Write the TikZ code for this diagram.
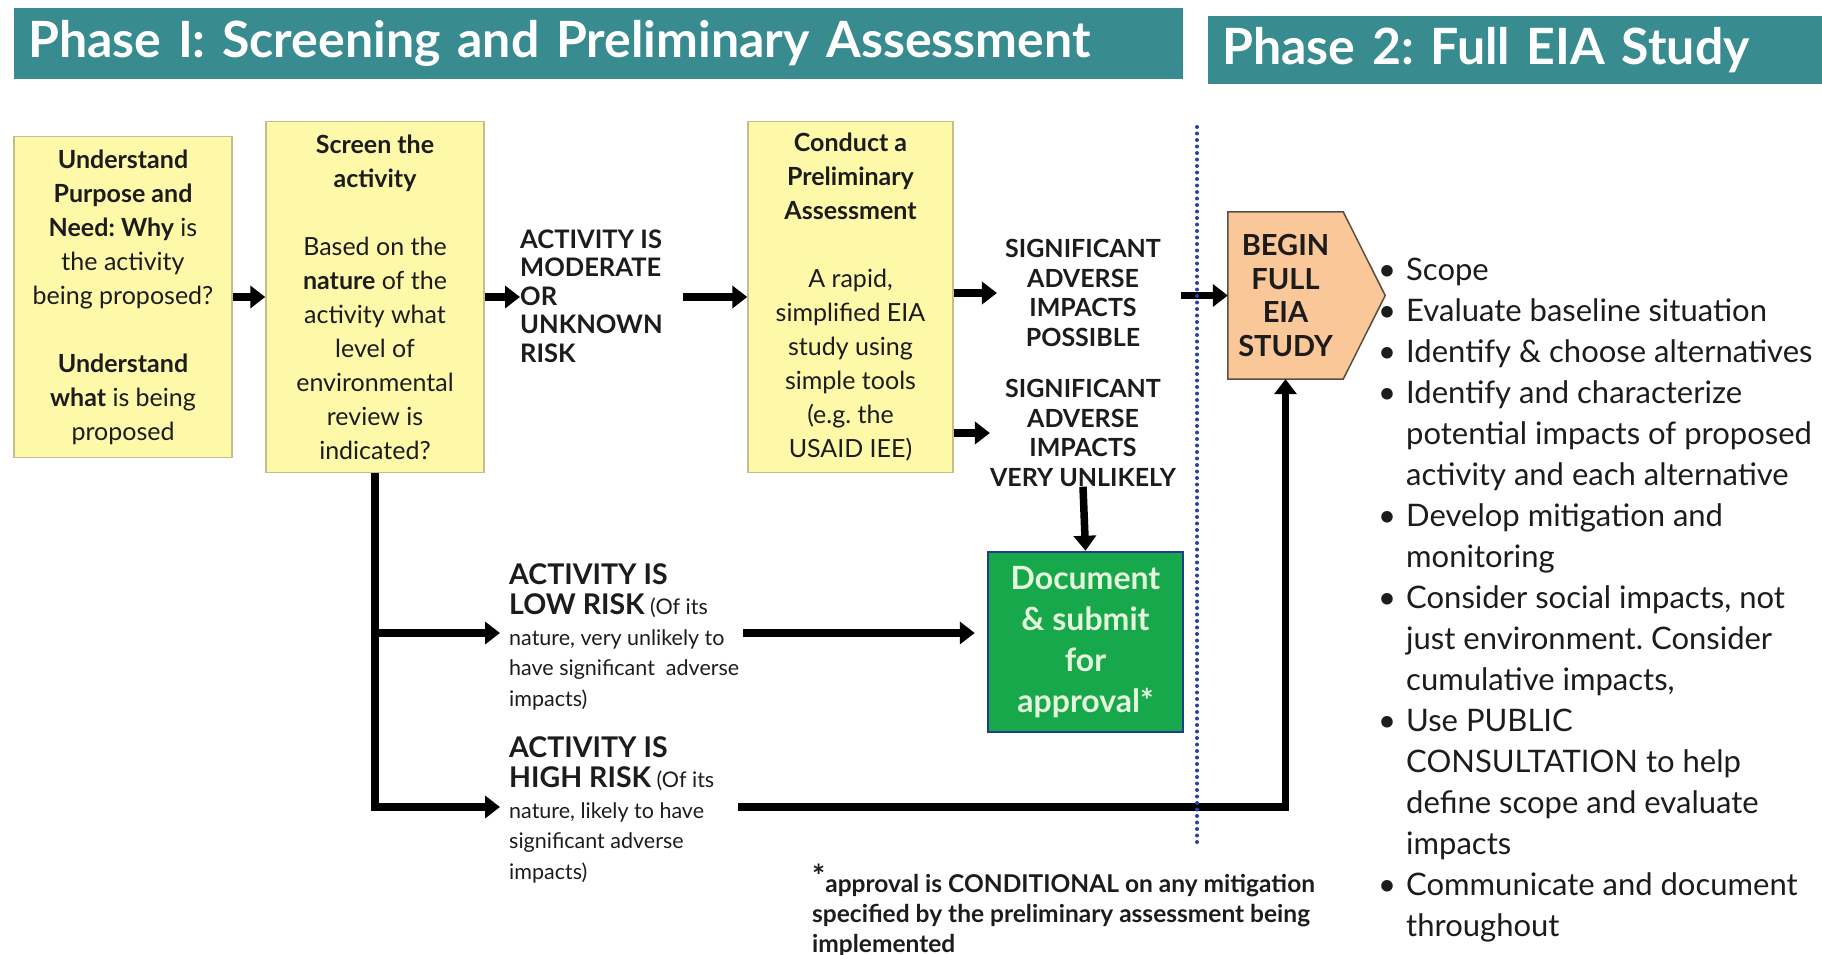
\documentclass[tikz,border=0pt]{standalone}
\usepackage{fontspec}
\setmainfont{Lato}
\frenchspacing
\usetikzlibrary{arrows.meta}
\definecolor{barteal}{RGB}{56,139,142}
\definecolor{boxyellow}{RGB}{253,249,168}
\definecolor{boxedge}{RGB}{196,190,140}
\definecolor{okgreen}{RGB}{24,168,76}
\definecolor{okedge}{RGB}{32,60,140}
\definecolor{oktext}{RGB}{228,246,220}
\definecolor{beginfill}{RGB}{249,199,152}
\definecolor{beginedge}{RGB}{90,78,66}
\definecolor{dotblue}{RGB}{40,64,170}
\definecolor{ink}{RGB}{28,28,28}
\newcommand{\riskhead}[1]{{\fontsize{28.5}{31}\selectfont\bfseries #1}}
\newcommand{\itm}{\makebox[28pt][l]{\textbullet}}
\newcommand{\cnt}{\hspace*{28pt}}

\begin{document}
\begin{tikzpicture}[x=1pt,y=-1pt,
  phasebar/.style={fill=barteal,text=white,anchor=north west,inner xsep=14pt,align=left,
    font=\fontsize{50}{56}\selectfont\bfseries},
  stepbox/.style={draw=boxedge,fill=boxyellow,line width=1.5pt,text=ink,align=center,
    inner sep=2pt,minimum height=351pt,font=\fontsize{25}{34}\selectfont},
  caps/.style={text=ink,inner sep=0pt,align=center,font=\fontsize{25}{29.5}\selectfont\bfseries},
  risk/.style={anchor=north west,inner sep=0pt,align=left,text=ink,font=\fontsize{21.5}{30.5}\selectfont},
  arr/.style={line width=7.5pt,-{Triangle[length=15pt,width=22pt]}}
]
\useasboundingbox (0,0) rectangle (1822,955);

\node[phasebar,minimum width=1169pt,minimum height=71pt,text width=1141pt] (phaseone) at (14,8)
  {Phase I: Screening and Preliminary Assessment};
\node[phasebar,minimum width=620pt,minimum height=68pt,text width=592pt] (phasetwo) at (1208,16)
  {Phase 2: Full EIA Study};

\node[stepbox,minimum width=218pt,minimum height=321pt] (purpose) at (123,297)
  {\textbf{Understand}\\\textbf{Purpose and}\\\textbf{Need: Why} is\\the activity\\being proposed?\\[34pt]
   \textbf{Understand}\\\textbf{what} is being\\proposed};
\node[stepbox,minimum width=218pt] (screen) at (375,297)
  {\textbf{Screen the}\\\textbf{activity}\\[34pt]Based on the\\\textbf{nature} of the\\activity what\\level of\\
   environmental\\review is\\indicated?};
\node[stepbox,minimum width=205pt] (prelim) at (850.5,297)
  {\textbf{Conduct a}\\\textbf{Preliminary}\\\textbf{Assessment}\\[34pt]A rapid,\\simplified EIA\\study using\\
   simple tools\\(e.g. the\\USAID IEE)};

\node[caps,align=left,anchor=west,font=\fontsize{25.5}{28.5}\selectfont\bfseries] (moderate) at (520,296)
  {ACTIVITY IS\\MODERATE\\OR\\UNKNOWN\\RISK};
\node[caps] (possible) at (1083,293) {SIGNIFICANT\\ADVERSE\\IMPACTS\\POSSIBLE};
\node[caps] (unlikely) at (1083,433) {SIGNIFICANT\\ADVERSE\\IMPACTS\\VERY UNLIKELY};

\node[draw=okedge,fill=okgreen,line width=2.5pt,text=oktext,minimum width=195pt,minimum height=180pt,
  align=center,font=\fontsize{32}{41}\selectfont\bfseries] (submit) at (1085.5,642)
  {Document\\\& submit\\for\\approval*};

\node[minimum width=115pt,minimum height=167pt,inner sep=0pt] (begin) at (1285.5,295.5) {};
\draw[fill=beginfill,draw=beginedge,line width=1.5pt] (begin.north west) -- (begin.north east)
  -- ([xshift=42pt]begin.east) -- (begin.south east) -- (begin.south west) -- cycle;
\node[text=ink,align=center,font=\fontsize{29}{33.7}\selectfont\bfseries] (begintext) at (begin)
  {BEGIN\\FULL\\EIA\\STUDY};

\node[risk] (lowrisk) at (509,563)
  {\riskhead{ACTIVITY IS}\\\riskhead{LOW RISK} (Of its\\nature, very unlikely to\\have significant\ \ adverse\\impacts)};
\node[risk] (highrisk) at (509,736)
  {\riskhead{ACTIVITY IS}\\\riskhead{HIGH RISK} (Of its\\nature, likely to have\\significant adverse\\impacts)};

\node[anchor=north west,inner sep=0pt,align=left,text=ink,font=\fontsize{24.5}{30}\selectfont\bfseries] (note) at (812,864)
  {\raisebox{5pt}{\fontsize{31}{30}\selectfont *}approval is CONDITIONAL on any mitigation\\
   specified by the preliminary assessment being\\implemented};

\node[anchor=north west,inner sep=0pt,align=left,text=ink,font=\fontsize{31}{41}\selectfont] (steps) at (1378,258)
  {\itm Scope\\\itm Evaluate baseline situation\\\itm Identify \& choose alternatives\\
   \itm Identify and characterize\\\cnt potential impacts of proposed\\\cnt activity and each alternative\\
   \itm Develop mitigation and\\\cnt monitoring\\\itm Consider social impacts, not\\
   \cnt just environment. Consider\\\cnt cumulative impacts,\\\itm Use PUBLIC\\
   \cnt CONSULTATION to help\\\cnt define scope and evaluate\\\cnt impacts\\
   \itm Communicate and document\\\cnt throughout};

\coordinate (lowin) at (500,633);
\coordinate (highin) at (500,807);
\coordinate (lowout) at (743,633);
\coordinate (highout) at (738,807);

\draw[arr] (purpose.east) -- (purpose.east -| screen.west);
\draw[arr] (screen.east) -- (screen.east -| moderate.west);
\draw[arr,shorten <=20pt] (moderate.east |- prelim.west) -- (prelim.west);
\draw[arr,shorten >=8pt] (prelim.east |- possible.west) -- (possible.west);
\draw[arr] (prelim.east |- unlikely.west) -- (unlikely.west);
\draw[arr] (unlikely.south) -- (submit.north);
\draw[arr,shorten <=20pt] (possible.east |- begin.west) -- (begin.west);
\draw[arr] (screen.south) |- (lowin);
\draw[arr] (screen.south) |- (highin);
\draw[arr,shorten >=12pt] (lowout) -- (lowout -| submit.west);
\draw[arr] (highout) -| (begin.south);

\draw[dotblue,line width=4pt,line cap=round,dash pattern=on 0pt off 6.5pt] (1197,127) -- (1197,845);
\end{tikzpicture}
\end{document}
